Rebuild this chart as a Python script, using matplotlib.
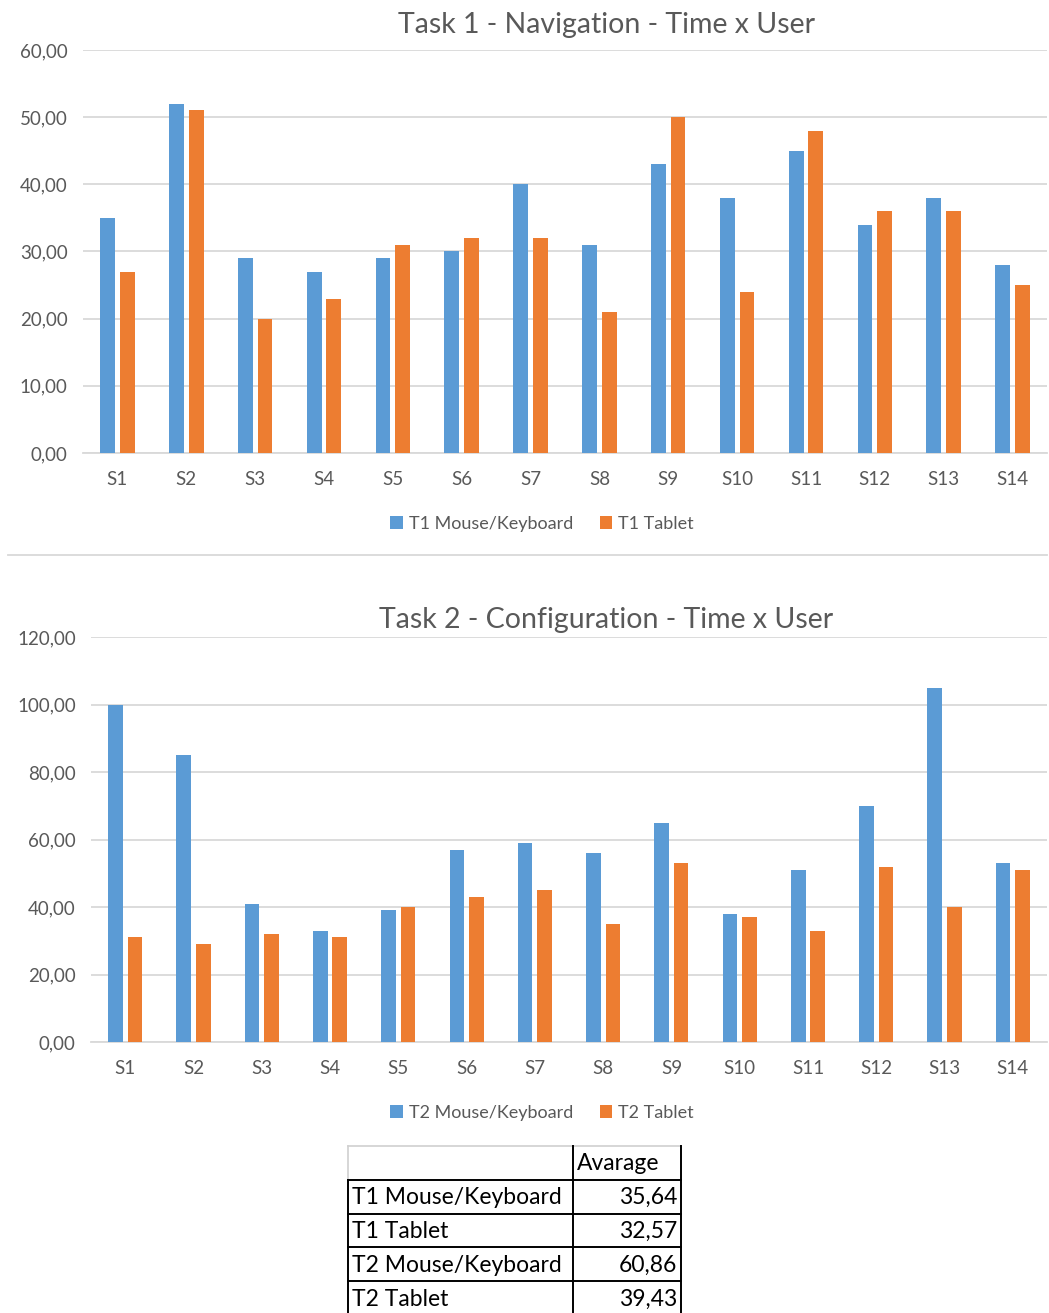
import matplotlib
matplotlib.use("Agg")
import matplotlib.pyplot as plt
import numpy as np

plt.rcParams['font.family'] = ['Lato', 'DejaVu Sans']

users = [f"S{i}" for i in range(1, 15)]
t1_mouse = [35, 52, 29, 27, 29, 30, 40, 31, 43, 38, 45, 34, 38, 28]
t1_tablet = [27, 51, 20, 23, 31, 32, 32, 21, 50, 24, 48, 36, 36, 25]
t2_mouse = [100, 85, 41, 33, 39, 57, 59, 56, 65, 38, 51, 70, 105, 53]
t2_tablet = [31, 29, 32, 31, 40, 43, 45, 35, 53, 37, 33, 52, 40, 51]

table_rows = ["T1 Mouse/Keyboard", "T1 Tablet", "T2 Mouse/Keyboard", "T2 Tablet"]
table_avg = [35.64, 32.57, 60.86, 39.43]

BLUE = "#5B9BD5"
ORANGE = "#ED7D31"
GRID = "#D9D9D9"
TXT = "#595959"

W, H = 1049, 1313
fig = plt.figure(figsize=(W / 100, H / 100), dpi=100)


def px_axes(x0, y0, x1, y1):
    # rectangle given in pixel coords (top-left origin)
    return fig.add_axes([x0 / W, 1 - y1 / H, (x1 - x0) / W, (y1 - y0) / H])


def comma(v):
    return f"{v:.2f}".replace(".", ",")


def bar_chart(ax, a, b, ymax, step, title, title_y, names, legend_y):
    x = np.arange(len(users))
    off, bw = 0.1425, 0.215
    ax.bar(x - off, a, bw, color=BLUE, label=names[0], zorder=3)
    ax.bar(x + off, b, bw, color=ORANGE, label=names[1], zorder=3)
    ax.set_xlim(-0.5, len(users) - 0.5)
    ax.set_ylim(0, ymax)
    ax.set_yticks(np.arange(0, ymax + 1, step))
    ax.set_yticklabels([comma(v) for v in np.arange(0, ymax + 1, step)])
    ax.set_xticks(x)
    ax.set_xticklabels(users)
    ax.grid(axis="y", color=GRID, linewidth=1.3, zorder=0)
    for s in ["top", "right", "left"]:
        ax.spines[s].set_visible(False)
    ax.spines["bottom"].set_color(GRID)
    ax.spines["bottom"].set_linewidth(1.3)
    ax.tick_params(length=0, labelsize=13.5, labelcolor=TXT)
    ax.tick_params(axis="y", pad=11)
    ax.tick_params(axis="x", pad=13)
    fig.text(606 / W, 1 - title_y / H, title, ha="center", va="center",
             fontsize=20.5, color=TXT)
    ax.legend(loc="center", bbox_to_anchor=(542 / W, 1 - legend_y / H),
              bbox_transform=fig.transFigure, ncol=2, frameon=False,
              fontsize=13, labelcolor=TXT, handlelength=0.7,
              handleheight=0.7, handletextpad=0.3, columnspacing=1.5)


ax1 = px_axes(83, 50, 1047, 453)
bar_chart(ax1, t1_mouse, t1_tablet, 60, 10,
          "Task 1 - Navigation - Time x User", 25,
          ["T1 Mouse/Keyboard", "T1 Tablet"], 524)

ax2 = px_axes(91, 637, 1047, 1042)
bar_chart(ax2, t2_mouse, t2_tablet, 120, 20,
          "Task 2 - Configuration - Time x User", 620,
          ["T2 Mouse/Keyboard", "T2 Tablet"], 1113)

# separator between the two chart objects
fig.add_artist(plt.Line2D([8 / W, 1047 / W], [1 - 555 / H, 1 - 555 / H],
                          color=GRID, linewidth=1.3))

# averages table
tx = px_axes(346, 1144, 684, 1313)
tx.set_xlim(346, 684)
tx.set_ylim(1313, 1144)
tx.axis("off")
left, split, right = 348, 573, 681
top, row_h = 1146, 33.8
# header row: light grid around empty cell, black around the header cell
tx.plot([left, split], [top, top], color="#D0D0D0", lw=1.2)
tx.plot([left, left], [top, top + row_h], color="#D0D0D0", lw=1.2)
tx.plot([split, right], [top, top], color="#D0D0D0", lw=1.2)
tx.plot([split, split], [top, top + row_h], color="black", lw=1.4)
tx.plot([right, right], [top, top + row_h], color="black", lw=1.4)
tx.text(split + 4, top + row_h / 2 + 1, "Avarage", ha="left", va="center",
        fontsize=16.5, color="black")
for i, (name, val) in enumerate(zip(table_rows, table_avg)):
    y0 = top + row_h * (i + 1)
    y1 = y0 + row_h
    tx.plot([left, right], [y0, y0], color="black", lw=1.4)
    for xv in (left, split, right):
        tx.plot([xv, xv], [y0, y1], color="black", lw=1.4)
    tx.text(left + 4, (y0 + y1) / 2 + 1, name, ha="left", va="center",
            fontsize=16.5, color="black")
    tx.text(right - 4, (y0 + y1) / 2 + 1, comma(val), ha="right", va="center",
            fontsize=16.5, color="black")

fig.savefig("out.png", dpi=100, facecolor="white")
plt.close("all")
